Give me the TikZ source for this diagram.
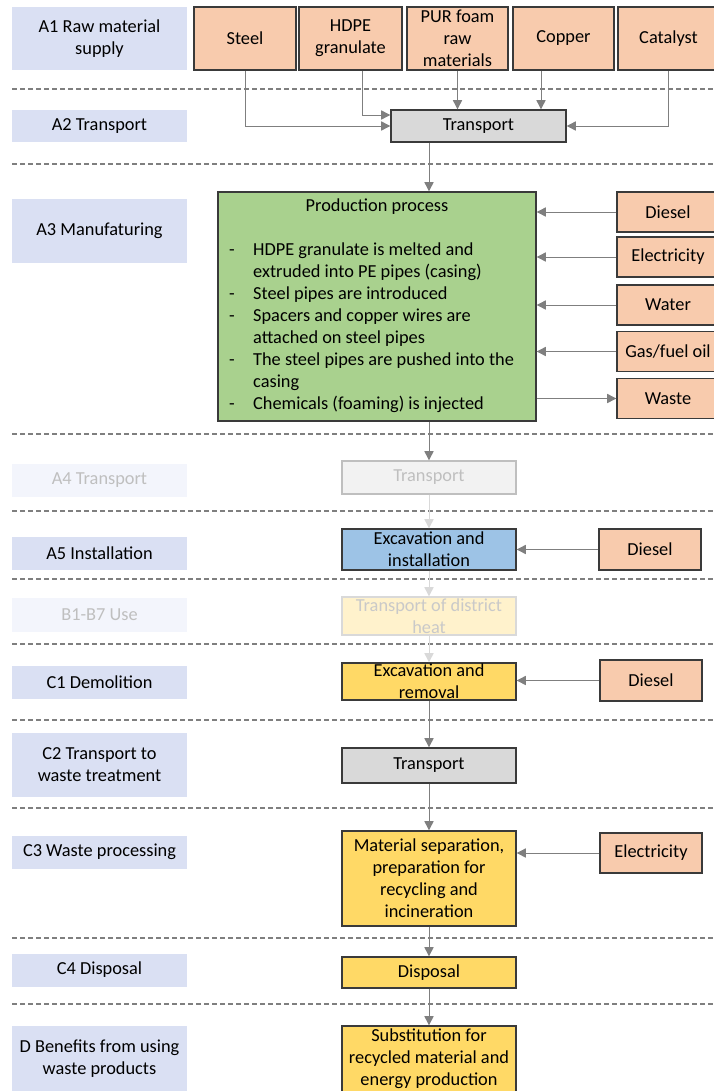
\documentclass[tikz,border=0pt]{standalone}
\usepackage{fontspec}
\setmainfont{Carlito}
\usetikzlibrary{arrows.meta}
\definecolor{phasefill}{HTML}{DAE0F3}
\definecolor{fadedfill}{HTML}{F3F5FC}
\definecolor{fadedtext}{HTML}{BFBFBF}
\definecolor{inputfill}{HTML}{F8CBAD}
\definecolor{prodfill}{HTML}{A9D18E}
\definecolor{transfill}{HTML}{D9D9D9}
\definecolor{installfill}{HTML}{9DC3E6}
\definecolor{endfill}{HTML}{FFD966}
\definecolor{usefill}{HTML}{FFF2CC}
\definecolor{boxline}{HTML}{3A3A3A}
\definecolor{flowgrey}{HTML}{7F7F7F}
\definecolor{fadedarrow}{HTML}{D9D9D9}
\definecolor{dividergrey}{HTML}{7F7F7F}

\begin{document}
\begin{tikzpicture}[x=0.6pt,y=-0.6pt,
    every node/.style={font=\fontsize{11}{13.2}\selectfont, inner sep=0pt, align=center},
    phase/.style={fill=phasefill, minimum width=105pt, minimum height=19.8pt},
    fadedphase/.style={phase, fill=fadedfill, text=fadedtext},
    stagebox/.style={draw=boxline, line width=0.8pt, minimum width=104.4pt},
    input/.style={draw=boxline, line width=0.8pt, fill=inputfill, minimum width=61.2pt, minimum height=24pt},
    flow/.style={draw=flowgrey, line width=0.6pt, -{Triangle[width=5.5pt,length=5.5pt]}},
    fadedflow/.style={flow, draw=fadedarrow},
    divider/.style={draw=dividergrey, line width=0.9pt, dash pattern=on 3pt off 1.8pt}]
    \useasboundingbox (0,0) rectangle (713,1091);

    \foreach \y in {89,164,434,511,579,644,720,808,938,1004}
        \draw[divider] (12,\y) -- (713,\y);

    \node[phase, minimum height=37.8pt] (labA1) at (99.5,38.5) {A1 Raw material\\supply};
    \node[phase, minimum height=19.2pt] (labA2) at (99.5,126) {A2 Transport};
    \node[phase, minimum height=38.4pt] (labA3) at (99.5,231) {A3 Manufaturing};
    \node[fadedphase] (labA4) at (99.5,480) {A4 Transport};
    \node[phase] (labA5) at (99.5,553) {A5 Installation};
    \node[fadedphase, minimum height=20.4pt] (labB) at (99.5,615) {B1-B7 Use};
    \node[phase] (labC1) at (99.5,682) {C1 Demolition};
    \node[phase, minimum height=38.4pt] (labC2) at (99.5,765) {C2 Transport to\\waste treatment};
    \node[phase] (labC3) at (99.5,852) {C3 Waste processing};
    \node[phase] (labC4) at (99.5,970) {C4 Disposal};
    \node[phase, minimum height=39pt] (labD) at (99.5,1058.5) {D Benefits from using\\waste products};

    \node[input, minimum width=61.2pt, minimum height=37.8pt] (steel) at (245,38.5) {Steel};
    \node[input, minimum width=61.8pt, minimum height=37.8pt] (hdpe) at (350.5,38.5) {HDPE\\granulate};
    \node[input, minimum width=60.6pt, minimum height=37.8pt] (pur) at (457.5,38.5) {PUR foam\\raw\\materials};
    \node[input, minimum width=60.6pt, minimum height=37.8pt] (copper) at (563.5,38.5) {Copper};
    \node[input, minimum width=60.6pt, minimum height=37.8pt] (catalyst) at (668.5,38.5) {Catalyst};

    \node[stagebox, fill=transfill, minimum width=105pt, minimum height=19.2pt] (trA2) at (478.5,126) {Transport};

    \node[stagebox, fill=prodfill, minimum width=190.8pt, minimum height=137.4pt] (prod) at (377,306.5)
        {\begin{tabular}{@{}p{14.4pt}@{}l@{\hspace{6.5pt}}}
            \multicolumn{2}{@{}c@{}}{Production process}\\[13.2pt]
            - & HDPE granulate is melted and\\
              & extruded into PE pipes (casing)\\
            - & Steel pipes are introduced\\
            - & Spacers and copper wires are\\
              & attached on steel pipes\\
            - & The steel pipes are pushed into the\\
              & casing\\
            - & Chemicals (foaming) is injected
        \end{tabular}};

    \node[input] (dieselA3) at (668,212) {Diesel};
    \node[input] (elecA3) at (668,257) {Electricity};
    \node[input] (water) at (668,305) {Water};
    \node[input] (gas) at (668,351.5) {Gas/fuel oil};
    \node[input] (waste) at (668,398.5) {Waste};

    \node[stagebox, draw=fadedtext, fill=transfill!35, text=fadedtext, minimum height=19.8pt] (trA4) at (429,477.5) {Transport};
    \node[stagebox, fill=installfill, minimum height=24.6pt] (install) at (429,549.5) {Excavation and\\installation};
    \node[input, minimum height=24.6pt] (dieselA5) at (650,549.5) {Diesel};
    \node[stagebox, draw=transfill, fill=usefill, text=fadedtext!85, minimum height=22.8pt] (use) at (429,616) {Transport of district\\heat};
    \node[stagebox, fill=endfill, minimum height=22.2pt] (demol) at (429,681.5) {Excavation and\\removal};
    \node[input, minimum height=24.6pt] (dieselC1) at (651,680.5) {Diesel};
    \node[stagebox, fill=transfill, minimum height=21pt] (trC2) at (429,765.5) {Transport};
    \node[stagebox, fill=endfill, minimum height=57pt] (separ) at (429,878.5) {Material separation,\\preparation for\\recycling and\\incineration};
    \node[input] (elecC3) at (651,853) {Electricity};
    \node[stagebox, fill=endfill, minimum height=18.6pt] (disp) at (429,972.5) {Disposal};
    \node[stagebox, fill=endfill, minimum height=39.6pt] (subst) at (429,1059) {Substitution for\\recycled material and\\energy production};

    \draw[flow] (steel.south) |- (trA2.west);
    \draw[flow] ([xshift=6.9pt]hdpe.south) |- ([yshift=6.6pt]trA2.west);
    \draw[flow] (pur.south) -- (pur.south |- trA2.north);
    \draw[flow] ([xshift=-13.5pt]copper.south) -- ([xshift=-13.5pt]copper.south |- trA2.north);
    \draw[flow] (catalyst.south) |- (trA2.east);

    \draw[flow] (trA2.south -| trA4) -- (prod.north -| trA4);
    \draw[flow] (dieselA3.west) -- (dieselA3.west -| prod.east);
    \draw[flow] (elecA3.west) -- (elecA3.west -| prod.east);
    \draw[flow] (water.west) -- (water.west -| prod.east);
    \draw[flow] (gas.west) -- (gas.west -| prod.east);
    \draw[flow] (waste.west -| prod.east) -- (waste.west);

    \draw[flow] (prod.south -| trA4) -- (trA4.north);
    \draw[fadedflow] (trA4) -- (install.north);
    \draw[fadedflow] (install) -- (use.north);
    \draw[fadedflow] (use) -- (demol.north);
    \draw[flow] (dieselA5.west) -- (dieselA5.west -| install.east);
    \draw[flow] (dieselC1.west) -- (dieselC1.west -| demol.east);
    \draw[flow] (demol.south) -- (trC2.north);
    \draw[flow] (trC2.south) -- (separ.north);
    \draw[flow] (elecC3.west) -- (elecC3.west -| separ.east);
    \draw[flow] (separ.south) -- (disp.north);
    \draw[flow] (disp.south) -- (subst.north);
\end{tikzpicture}
\end{document}
